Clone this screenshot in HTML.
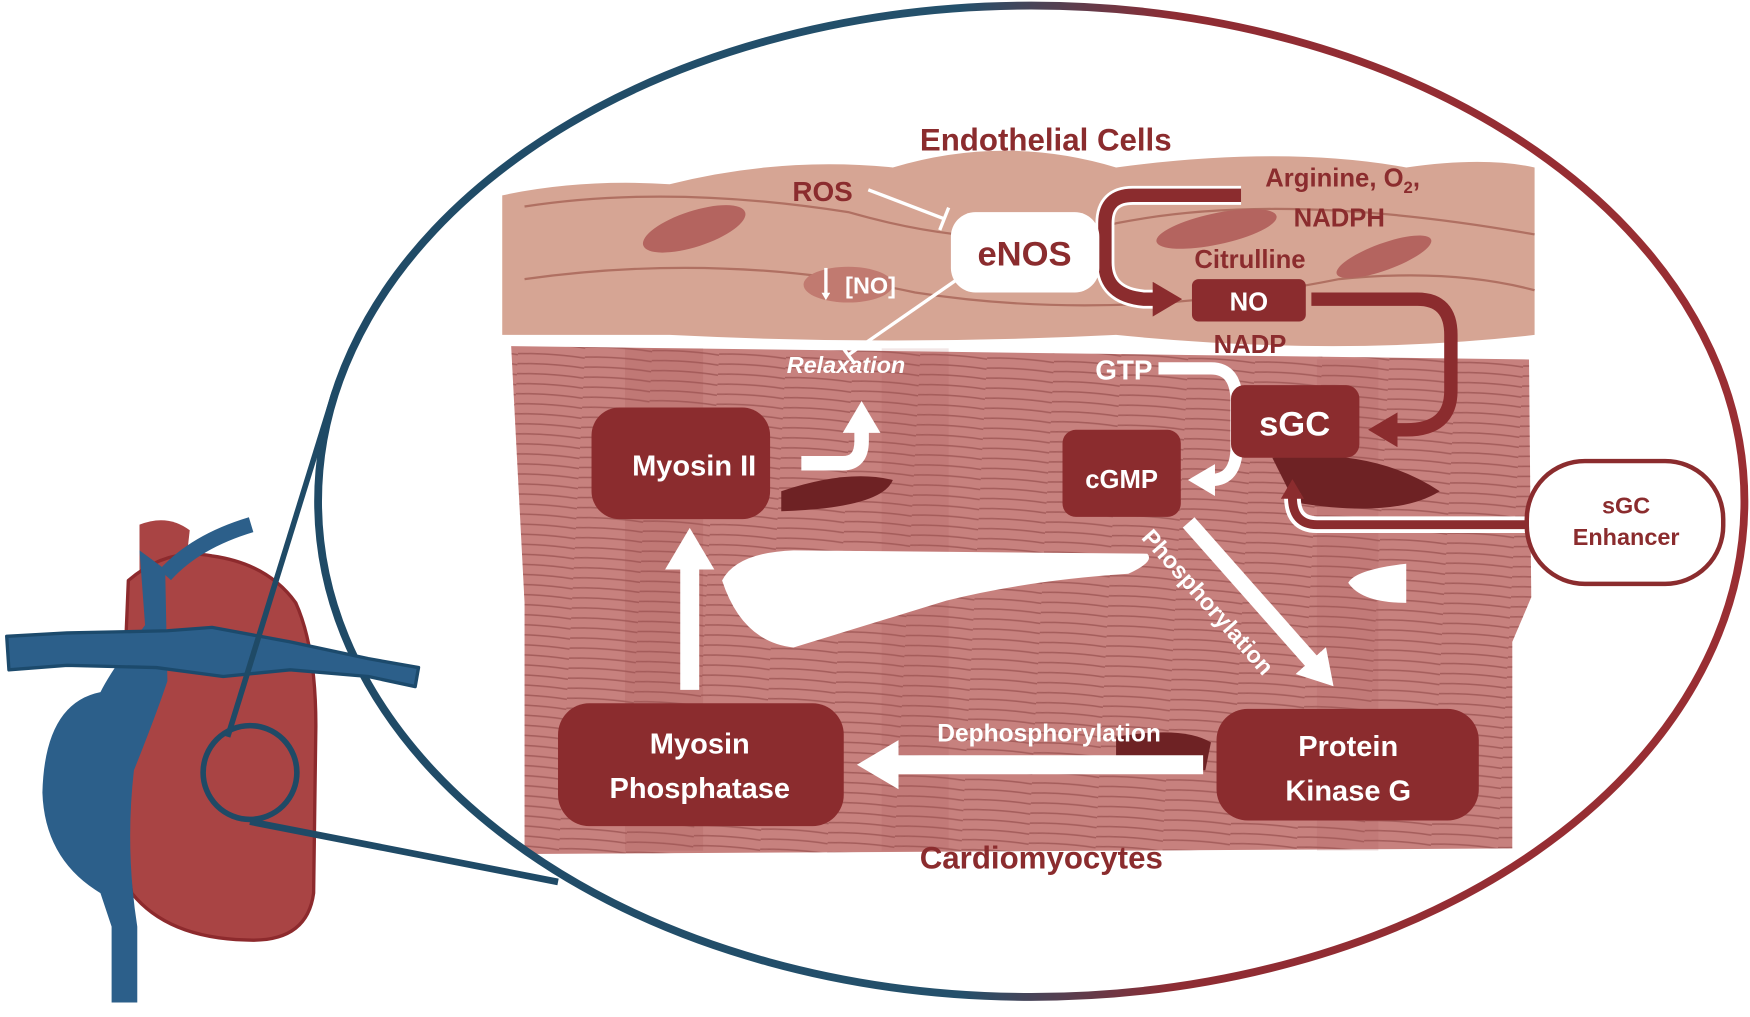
<!DOCTYPE html>
<html><head><style>html,body{margin:0;padding:0;background:#fff;}svg{display:block}</style></head><body>
<svg width="1750" height="1017" viewBox="0 0 1568 911" preserveAspectRatio="none" xmlns="http://www.w3.org/2000/svg" font-family="Liberation Sans, sans-serif" font-weight="bold">
<defs>
<linearGradient id="eg" x1="0" y1="0" x2="1" y2="0">
<stop offset="0" stop-color="#1f4a66"/><stop offset="0.45" stop-color="#24506b"/><stop offset="0.6" stop-color="#8e2c33"/><stop offset="1" stop-color="#9a2e33"/></linearGradient>
<clipPath id="ec"><ellipse cx="924" cy="449" rx="636" ry="441"/></clipPath>
<marker id="wh" markerWidth="2.4" markerHeight="2.6" refX="0.6" refY="1.3" orient="auto"><path d="M0,0 L2.2,1.3 L0,2.6 z" fill="#fff"/></marker>
<marker id="rh" markerWidth="2.4" markerHeight="2.6" refX="0.6" refY="1.3" orient="auto"><path d="M0,0 L2.2,1.3 L0,2.6 z" fill="#8b2c2e"/></marker>
<pattern id="str" width="60" height="9" patternUnits="userSpaceOnUse" patternTransform="rotate(3)"><path d="M0,4 Q30,2 60,5" stroke="#7c3234" stroke-width="1.4" fill="none" opacity="0.45"/></pattern>
</defs>
<rect width="1568" height="911" fill="#fff"/>
<g clip-path="url(#ec)">
<!-- endothelial -->
<path d="M450,175 Q520,160 600,165 Q700,140 800,150 Q900,120 1000,150 Q1150,130 1260,150 Q1330,140 1375,150 L1375,300 Q1200,320 1000,300 Q800,310 600,300 L450,300 Z" fill="#d6a594"/>
<path d="M470,185 Q600,165 760,190 Q900,230 1000,200 Q1150,170 1375,210" stroke="#b07062" stroke-width="2" fill="none"/>
<path d="M470,250 Q650,225 820,262 Q1000,290 1200,250 Q1300,240 1375,260" stroke="#b07062" stroke-width="2" fill="none"/>
<ellipse cx="622" cy="205" rx="48" ry="16" transform="rotate(-18 622 205)" fill="#b4645f"/>
<ellipse cx="1090" cy="205" rx="55" ry="14" transform="rotate(-12 1090 205)" fill="#b4645f"/>
<ellipse cx="1240" cy="230" rx="45" ry="12" transform="rotate(-20 1240 230)" fill="#b4645f"/>
<ellipse cx="760" cy="255" rx="40" ry="16" fill="#c17a70"/>
<!-- muscle -->
<path d="M458,310 L1370,322 L1372,535 L1355,575 L1355,760 L470,765 L470,540 Z" fill="#c7817e"/>
<path d="M458,310 L1370,322 L1372,535 L1355,575 L1355,760 L470,765 L470,540 Z" fill="url(#str)"/>
<rect x="560" y="312" width="70" height="450" fill="#a55456" opacity="0.2"/>
<rect x="790" y="312" width="60" height="450" fill="#a55456" opacity="0.15"/>
<rect x="1180" y="322" width="55" height="440" fill="#a55456" opacity="0.15"/>
<!-- gap -->
<path d="M647,520 Q660,495 711,493 L1028,496 Q1035,503 1011,514 Q920,520 848,538 Q760,565 711,580 Q665,575 647,520 Z" fill="#fff"/>
<path d="M1260,505 Q1215,510 1208,522 Q1220,540 1260,540 Z" fill="#fff"/>
<path d="M700,440 Q760,420 800,430 Q790,455 700,458Z" fill="#6e2224"/>
<path d="M1140,410 Q1230,400 1290,440 Q1250,465 1160,450Z" fill="#6e2224"/>
<path d="M1000,660 Q1060,650 1085,665 L1080,690 Q1030,690 1000,680Z" fill="#6e2224"/>
</g>
<ellipse cx="924" cy="449" rx="639" ry="444" fill="none" stroke="url(#eg)" stroke-width="7"/>
<!-- heart -->
<g stroke-linejoin="round">
<path d="M125,470 Q150,460 170,475 L165,520 L125,520 Z" fill="#a94444"/>
<path d="M115,520 Q150,490 190,498 Q240,505 265,540 Q283,580 283,650 L281,800 Q275,845 220,842 Q150,840 118,800 Q105,720 110,640 Z" fill="#a94444" stroke="#8d2a2d" stroke-width="3"/>
<path d="M82,493 L125,493 L130,560 Q100,600 90,620 Q40,630 38,710 Q40,770 90,800 L100,830 L100,898 L123,898 L123,830 Q112,760 120,690 Q140,640 150,610 L148,510 L125,493 Z" fill="#2c5f8a"/>
<path d="M148,515 Q175,485 225,470" stroke="#2c5f8a" stroke-width="14" fill="none"/>
<path d="M6,570 L60,567 L150,565 L190,562 L260,575 L330,590 L375,598 L372,615 L330,606 L260,600 L200,606 L140,598 L60,596 L8,600 Z" fill="#2c5f8a" stroke="#1c4a6c" stroke-width="3"/>
<circle cx="224" cy="692" r="42" fill="none" stroke="#1f4a66" stroke-width="5"/>
<line x1="204" y1="660" x2="300" y2="350" stroke="#1f4a66" stroke-width="5"/>
<line x1="224" y1="736" x2="500" y2="790" stroke="#1f4a66" stroke-width="6"/>
</g>
<!-- arrows -->
<path d="M1112,175 L1015,175 Q990,175 990,200 L990,235 Q990,265 1025,268 L1040,268" fill="none" stroke="#fff" stroke-width="17"/>
<path d="M1112,175 L1015,175 Q990,175 990,200 L990,235 Q990,265 1025,268 L1040,268" fill="none" stroke="#8b2c2e" stroke-width="12" marker-end="url(#rh)"/>
<path d="M1175,268 L1270,268 Q1300,268 1300,300 L1300,350 Q1300,385 1260,385 L1245,385" fill="none" stroke="#8b2c2e" stroke-width="12" marker-end="url(#rh)"/>
<path d="M1038,330 L1085,330 Q1108,330 1108,360 L1108,400 Q1108,430 1085,430 L1082,430" fill="none" stroke="#fff" stroke-width="11" marker-end="url(#wh)"/>
<path d="M718,415 L755,415 Q772,415 772,395 L772,380" fill="none" stroke="#fff" stroke-width="13" marker-end="url(#wh)"/>
<line x1="618" y1="618" x2="618" y2="500" stroke="#fff" stroke-width="17" marker-end="url(#wh)"/>
<line x1="1065" y1="468" x2="1180" y2="598" stroke="#fff" stroke-width="14" marker-end="url(#wh)"/>
<line x1="1078" y1="685" x2="795" y2="685" stroke="#fff" stroke-width="17" marker-end="url(#wh)"/>
<path d="M1368,470 L1180,470 Q1158,470 1158,445 L1158,442" fill="none" stroke="#fff" stroke-width="15"/>
<path d="M1368,470 L1180,470 Q1158,470 1158,445 L1158,442" fill="none" stroke="#8b2c2e" stroke-width="8" marker-end="url(#rh)"/>
<line x1="778" y1="170" x2="846" y2="196" stroke="#fff" stroke-width="3"/>
<line x1="842" y1="206" x2="850" y2="186" stroke="#fff" stroke-width="3"/>
<line x1="858" y1="250" x2="760" y2="318" stroke="#fff" stroke-width="3"/>
<line x1="754" y1="310" x2="766" y2="326" stroke="#fff" stroke-width="3"/>
<line x1="740" y1="240" x2="740" y2="264" stroke="#fff" stroke-width="3" marker-end="url(#wh)"/>
<!-- boxes -->
<rect x="852" y="190" width="133" height="72" rx="22" fill="#fff"/>
<rect x="530" y="365" width="160" height="100" rx="25" fill="#8b2c2e"/>
<rect x="952" y="385" width="106" height="78" rx="12" fill="#8b2c2e"/>
<rect x="1103" y="345" width="115" height="65" rx="12" fill="#8b2c2e"/>
<rect x="1068" y="250" width="102" height="38" rx="6" fill="#8b2c2e"/>
<rect x="500" y="630" width="256" height="110" rx="28" fill="#8b2c2e"/>
<rect x="1090" y="635" width="235" height="100" rx="28" fill="#8b2c2e"/>
<rect x="1368" y="413" width="176" height="110" rx="52" fill="#fff" stroke="#8b2c2e" stroke-width="4"/>
<!-- text -->
<g fill="#8b2c2e">
<text x="937" y="135" font-size="28" text-anchor="middle">Endothelial Cells</text>
<text x="933" y="778" font-size="28" text-anchor="middle">Cardiomyocytes</text>
<text x="737" y="180" font-size="25" text-anchor="middle">ROS</text>
<text x="1203" y="167" font-size="23" text-anchor="middle">Arginine, O<tspan font-size="15" dy="6">2</tspan><tspan dy="-6">,</tspan></text>
<text x="1200" y="203" font-size="23" text-anchor="middle">NADPH</text>
<text x="1120" y="240" font-size="23" text-anchor="middle">Citrulline</text>
<text x="1120" y="316" font-size="23" text-anchor="middle">NADP</text>
<text x="1457" y="460" font-size="21" text-anchor="middle">sGC</text>
<text x="1457" y="488" font-size="21" text-anchor="middle">Enhancer</text>
</g>
<g fill="#fff">
<text x="918" y="238" font-size="31" text-anchor="middle" fill="#8b2c2e">eNOS</text>
<text x="780" y="263" font-size="21" text-anchor="middle">[NO]</text>
<text x="758" y="334" font-size="21" font-style="italic" text-anchor="middle">Relaxation</text>
<text x="622" y="426" font-size="26" text-anchor="middle">Myosin II</text>
<text x="1005" y="437" font-size="23" text-anchor="middle">cGMP</text>
<text x="1160" y="390" font-size="31" text-anchor="middle">sGC</text>
<text x="1119" y="278" font-size="23" text-anchor="middle">NO</text>
<text x="1007" y="340" font-size="25" text-anchor="middle">GTP</text>
<text x="627" y="675" font-size="26" text-anchor="middle">Myosin</text>
<text x="627" y="715" font-size="26" text-anchor="middle">Phosphatase</text>
<text x="1208" y="677" font-size="26" text-anchor="middle">Protein</text>
<text x="1208" y="717" font-size="26" text-anchor="middle">Kinase G</text>
<text x="940" y="664" font-size="22" text-anchor="middle">Dephosphorylation</text>
<text x="0" y="0" font-size="21" transform="translate(1022,482) rotate(48.5)">Phosphorylation</text>
</g>
</svg>
</body></html>
